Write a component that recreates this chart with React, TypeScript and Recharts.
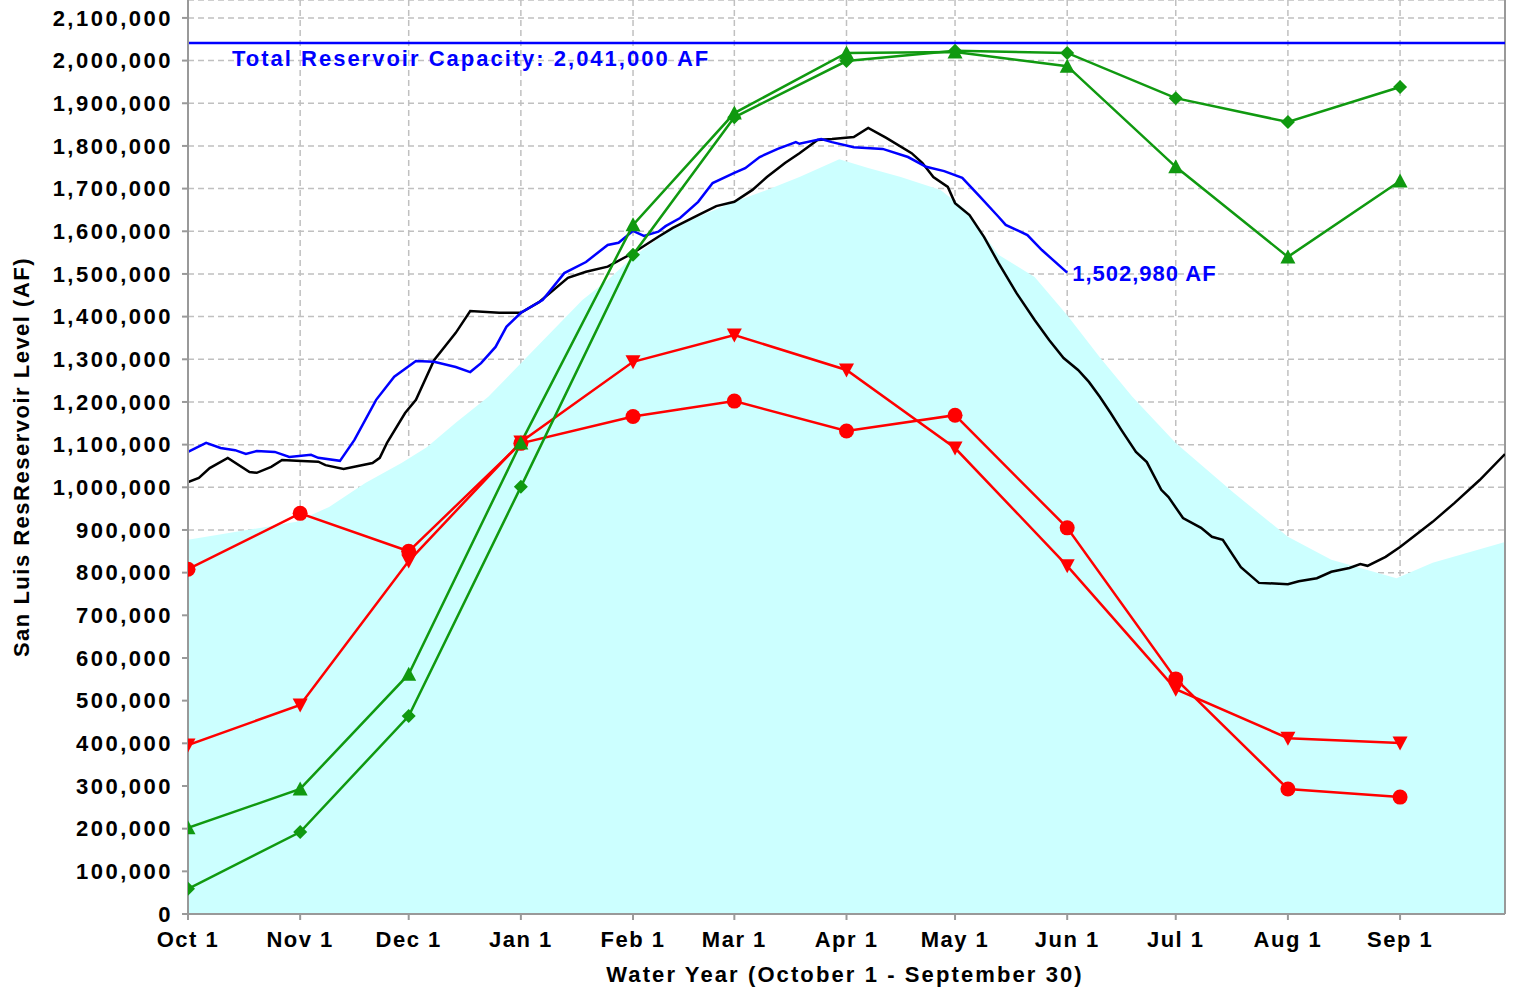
import React from "react";
import {
  Area,
  CartesianGrid,
  ComposedChart,
  Line,
  ReferenceDot,
  ReferenceLine,
  XAxis,
  YAxis,
} from "recharts";

const FONT = "'Liberation Sans', Arial, Helvetica, sans-serif";
const GRID = "#C0C0C0";
const AXIS = "#999999";
const BLUE = "#0000FF";
const RED = "#FF0000";
const GREEN = "#109910";
const CYAN = "#CCFFFF";

const MONTH_DAYS = [0, 31, 61, 92, 123, 151, 182, 212, 243, 273, 304, 335];
const MONTH_LABELS = [
  "Oct 1", "Nov 1", "Dec 1", "Jan 1", "Feb 1", "Mar 1",
  "Apr 1", "May 1", "Jun 1", "Jul 1", "Aug 1", "Sep 1",
];
const Y_TICKS = [
  0, 100000, 200000, 300000, 400000, 500000, 600000, 700000, 800000, 900000,
  1000000, 1100000, 1200000, 1300000, 1400000, 1500000, 1600000, 1700000,
  1800000, 1900000, 2000000, 2100000,
];

const CAPACITY = 2041000;
const CURRENT_LAST_DAY = 243;
const CURRENT_LAST = 1502980;

// monthly traces, one value per MONTH_DAYS entry
const RED_CIRCLE = [808000, 939000, 850000, 1103000, 1166000, 1202000, 1132000, 1169000, 905000, 551000, 293000, 274000];
const RED_TRIANGLE = [396000, 490000, 827000, 1106000, 1294000, 1357000, 1275000, 1092000, 816000, 527000, 412000, 401000];
const GREEN_TRIANGLE = [202000, 293000, 562000, 1104000, 1615000, 1877000, 2018000, 2020000, 1987000, 1751000, 1540000, 1718000];
const GREEN_DIAMOND = [59000, 192000, 464000, 1001000, 1545000, 1867000, 1999000, 2023000, 2018000, 1912000, 1856000, 1938000];

// daily traces as [day of water year, acre-feet]
const AVERAGE: [number, number][] = [
  [0, 877000], [30, 919000], [39, 954000], [49, 1010000], [59, 1057000], [66, 1094000],
  [74, 1151000], [83, 1212000], [92, 1291000], [101, 1369000], [109, 1439000], [116, 1486000],
  [123, 1540000], [132, 1596000], [141, 1634000], [151, 1669000], [160, 1697000], [169, 1727000],
  [180, 1769000], [188, 1748000], [197, 1727000], [208, 1697000], [215, 1650000], [224, 1545000],
  [234, 1493000], [243, 1403000], [252, 1305000], [261, 1212000], [273, 1104000], [289, 987000],
  [304, 884000], [316, 830000], [334, 787000], [344, 823000], [364, 872000],
];

const LAST_YEAR: [number, number][] = [
  [0, 1012000], [3, 1022000], [6, 1045000], [11, 1069000], [17, 1036000], [19, 1034000],
  [23, 1048000], [26, 1064000], [30, 1062000], [36, 1060000], [38, 1052000], [43, 1043000],
  [47, 1050000], [51, 1057000], [53, 1069000], [55, 1104000], [60, 1174000], [63, 1205000],
  [68, 1298000], [74, 1362000], [78, 1413000], [86, 1409000], [92, 1409000], [97, 1434000],
  [105, 1491000], [110, 1505000], [116, 1517000], [123, 1549000], [130, 1587000], [134, 1608000],
  [141, 1638000], [146, 1659000], [151, 1669000], [156, 1697000], [160, 1727000], [165, 1760000],
  [169, 1783000], [174, 1814000], [178, 1816000], [184, 1821000], [188, 1842000], [193, 1819000],
  [200, 1783000], [203, 1760000], [206, 1727000], [210, 1704000], [212, 1666000], [216, 1638000],
  [220, 1587000], [224, 1526000], [229, 1455000], [234, 1392000], [238, 1345000], [242, 1303000],
  [246, 1275000], [249, 1247000], [252, 1212000], [255, 1174000], [258, 1134000], [262, 1083000],
  [265, 1059000], [269, 994000], [271, 977000], [275, 928000], [280, 905000], [283, 884000],
  [286, 877000], [291, 813000], [296, 776000], [304, 773000], [307, 780000], [312, 787000],
  [316, 802000], [321, 811000], [324, 820000], [326, 816000], [331, 837000], [335, 860000],
  [340, 893000], [344, 919000], [350, 963000], [357, 1017000], [364, 1078000],
];

const THIS_YEAR: [number, number][] = [
  [0, 1083000], [5, 1104000], [9, 1092000], [13, 1087000], [16, 1078000], [19, 1085000],
  [24, 1083000], [28, 1071000], [34, 1076000], [36, 1069000], [42, 1062000], [46, 1111000],
  [52, 1205000], [57, 1259000], [63, 1296000], [68, 1294000], [74, 1282000], [78, 1270000],
  [81, 1291000], [85, 1329000], [88, 1376000], [92, 1409000], [98, 1439000], [104, 1502000],
  [110, 1528000], [116, 1568000], [119, 1573000], [123, 1601000], [126, 1589000], [130, 1599000],
  [132, 1612000], [136, 1631000], [141, 1669000], [145, 1713000], [151, 1737000], [154, 1748000],
  [158, 1774000], [163, 1793000], [168, 1809000], [169, 1805000], [175, 1816000], [178, 1809000],
  [184, 1797000], [192, 1793000], [199, 1774000], [204, 1751000], [209, 1741000], [214, 1725000],
  [219, 1680000], [224, 1634000], [226, 1615000], [232, 1591000], [236, 1556000],
  [CURRENT_LAST_DAY, CURRENT_LAST],
];

// merge everything into one table keyed by day
const byDay = new Map<number, any>();
const put = (day: number, key: string, v: number) => {
  const row = byDay.get(day) ?? { day };
  row[key] = v;
  byDay.set(day, row);
};
AVERAGE.forEach(([d, v]) => put(d, "avg", v));
LAST_YEAR.forEach(([d, v]) => put(d, "last", v));
THIS_YEAR.forEach(([d, v]) => put(d, "current", v));
MONTH_DAYS.forEach((d, i) => {
  put(d, "redCircle", RED_CIRCLE[i]);
  put(d, "redTriangle", RED_TRIANGLE[i]);
  put(d, "greenTriangle", GREEN_TRIANGLE[i]);
  put(d, "greenDiamond", GREEN_DIAMOND[i]);
});
const rows = [...byDay.values()].sort((a, b) => a.day - b.day);

const fmt = (v: number) => v.toLocaleString("en-US");
const monthLabel = (d: number) => MONTH_LABELS[MONTH_DAYS.indexOf(d)] ?? "";

function marker(shape: string, color: string) {
  return (p: any) => {
    const { cx, cy, index } = p;
    const key = `${shape}-${index}`;
    if (cx == null || cy == null || p.value == null) return <g key={key} />;
    if (shape === "circle") return <circle key={key} cx={cx} cy={cy} r={7.5} fill={color} />;
    let pts = "";
    if (shape === "down") pts = `${cx - 7.5},${cy - 6.5} ${cx + 7.5},${cy - 6.5} ${cx},${cy + 7.5}`;
    if (shape === "up") pts = `${cx},${cy - 7.5} ${cx + 7.5},${cy + 6.5} ${cx - 7.5},${cy + 6.5}`;
    if (shape === "diamond") pts = `${cx},${cy - 7} ${cx + 7},${cy} ${cx},${cy + 7} ${cx - 7},${cy}`;
    return <polygon key={key} points={pts} fill={color} />;
  };
}

const CapacityLabel = (props: any) => {
  const vb = props.viewBox || {};
  return (
    <text x={vb.x + 44} y={vb.y + 23} fill={BLUE} fontSize={22} fontWeight={700}
      fontFamily={FONT} letterSpacing={2}>
      Total Reservoir Capacity: 2,041,000 AF
    </text>
  );
};

const LastValueLabel = (props: any) => {
  const vb = props.viewBox || {};
  const cx = vb.x + (vb.width || 0) / 2;
  const cy = vb.y + (vb.height || 0) / 2;
  return (
    <text x={cx + 5} y={cy + 8} fill={BLUE} fontSize={22} fontWeight={700}
      fontFamily={FONT} letterSpacing={1}>
      {fmt(CURRENT_LAST)} AF
    </text>
  );
};

const tickStyle = { fontSize: 22, fontWeight: 700, fill: "#000", fontFamily: FONT };
const LW = 2.5;

export default function App() {
  return (
    <div style={{ position: "absolute", left: 0, top: 0, width: 1514, height: 992, background: "#fff" }}>
      <ComposedChart width={1514} height={992} data={rows}
        margin={{ top: 0, right: 9, bottom: 0, left: 0 }}>
        <CartesianGrid stroke={GRID} strokeWidth={1.5} strokeDasharray="6 4" />
        <XAxis
          dataKey="day"
          type="number"
          domain={[0, 364]}
          ticks={MONTH_DAYS}
          interval={0}
          allowDataOverflow
          tickFormatter={monthLabel}
          tick={{ ...tickStyle, letterSpacing: 1.5 }}
          tickSize={6}
          tickMargin={11}
          height={78}
          axisLine={{ stroke: AXIS, strokeWidth: 2 }}
          tickLine={{ stroke: AXIS, strokeWidth: 2 }}
        />
        <YAxis
          type="number"
          domain={[0, 2142000]}
          ticks={Y_TICKS}
          interval={0}
          allowDataOverflow
          tickFormatter={fmt}
          tick={{ ...tickStyle, letterSpacing: 2.5 }}
          tickSize={6}
          tickMargin={9}
          width={188}
          axisLine={{ stroke: AXIS, strokeWidth: 2 }}
          tickLine={{ stroke: AXIS, strokeWidth: 2 }}
        />
        <Area dataKey="avg" type="linear" connectNulls fill={CYAN} fillOpacity={1}
          stroke="none" dot={false} activeDot={false} isAnimationActive={false} />
        <ReferenceLine x={364} stroke={AXIS} strokeWidth={2} />
        <Line dataKey="last" type="linear" connectNulls stroke="#000" strokeWidth={LW}
          dot={false} activeDot={false} isAnimationActive={false} />
        <Line dataKey="current" type="linear" connectNulls stroke={BLUE} strokeWidth={LW}
          dot={false} activeDot={false} isAnimationActive={false} />
        <Line dataKey="redCircle" type="linear" connectNulls stroke={RED} strokeWidth={LW}
          dot={marker("circle", RED)} activeDot={false} isAnimationActive={false} />
        <Line dataKey="redTriangle" type="linear" connectNulls stroke={RED} strokeWidth={LW}
          dot={marker("down", RED)} activeDot={false} isAnimationActive={false} />
        <Line dataKey="greenTriangle" type="linear" connectNulls stroke={GREEN} strokeWidth={LW}
          dot={marker("up", GREEN)} activeDot={false} isAnimationActive={false} />
        <Line dataKey="greenDiamond" type="linear" connectNulls stroke={GREEN} strokeWidth={LW}
          dot={marker("diamond", GREEN)} activeDot={false} isAnimationActive={false} />
        <ReferenceLine y={CAPACITY} stroke={BLUE} strokeWidth={2.5} label={<CapacityLabel />} />
        <ReferenceDot x={CURRENT_LAST_DAY} y={CURRENT_LAST} r={0} stroke="none" fill="none"
          label={<LastValueLabel />} />
      </ComposedChart>
      <div
        style={{
          position: "absolute", left: 22, top: 457, transform: "translate(-50%, -50%) rotate(-90deg)",
          whiteSpace: "nowrap", fontFamily: FONT, fontWeight: 700, fontSize: 22, letterSpacing: 1.5,
        }}
      >
        San Luis ResReservoir Level (AF)
      </div>
      <div
        style={{
          position: "absolute", left: 845, top: 975, transform: "translate(-50%, -50%)",
          whiteSpace: "nowrap", fontFamily: FONT, fontWeight: 700, fontSize: 22, letterSpacing: 2.1,
        }}
      >
        Water Year (October 1 - September 30)
      </div>
    </div>
  );
}
